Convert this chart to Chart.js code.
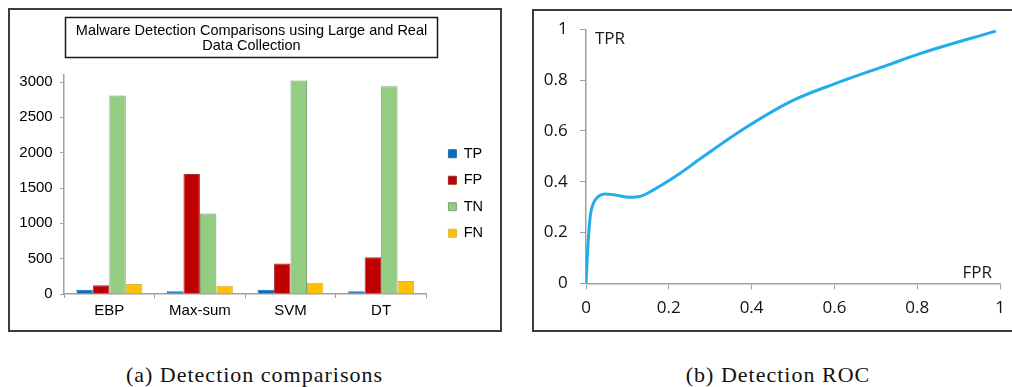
<!DOCTYPE html>
<html>
<head>
<meta charset="utf-8">
<script src="https://cdn.jsdelivr.net/npm/chart.js@4.4.0/dist/chart.umd.min.js"></script>
<style>
  body { margin: 0; background: #fff; width: 1012px; height: 387px; overflow: hidden; position: relative; }
  .box { position: absolute; border: 2px solid #3c3c3c; box-sizing: border-box; background: #fff; }
  #boxA { left: 8px; top: 8px; width: 494px; height: 324px; }
  #boxB { left: 532px; top: 9px; width: 500px; height: 323px; }
  .wrap { position: absolute; left: 0; top: 0; }
  #wrapA { width: 490px; height: 320px; }
  #wrapB { width: 496px; height: 319px; }
  .cap { position: absolute; top: 362px; height: 26px; line-height: 26px; text-align: center;
         font-family: "Liberation Serif", serif; font-size: 22px; letter-spacing: 1px; color: #111; }
  #capA { left: 0; width: 509px; }
  #capB { left: 628px; width: 300px; }
</style>
</head>
<body>
<div class="box" id="boxA"><div class="wrap" id="wrapA"><canvas id="barChart"></canvas></div></div>
<div class="box" id="boxB"><div class="wrap" id="wrapB"><canvas id="rocChart"></canvas></div></div>
<div class="cap" id="capA">(a) Detection comparisons</div>
<div class="cap" id="capB">(b) Detection ROC</div>
<script>
// bar chart data
const categories = ["EBP", "Max-sum", "SVM", "DT"];
const tpValues = [60, 40, 60, 40];
const fpValues = [125, 1700, 430, 520];
const tnValues = [2810, 1140, 3020, 2940];
const fnValues = [140, 115, 160, 185];
const countTicks = [0, 500, 1000, 1500, 2000, 2500, 3000];

// ROC curve data
const fpr = [0, 0.004, 0.01, 0.018, 0.03, 0.046, 0.07, 0.105, 0.13, 0.16, 0.22, 0.28, 0.39, 0.5, 0.6, 0.73, 0.81, 0.99];
const tpr = [0, 0.13, 0.26, 0.315, 0.342, 0.352, 0.348, 0.339, 0.342, 0.365, 0.425, 0.495, 0.617, 0.72, 0.785, 0.86, 0.906, 0.993];
const rateTicks = [0, 0.2, 0.4, 0.6, 0.8, 1];

const sans = "'Liberation Sans', Arial, sans-serif";
const axisGrey = "#a0a0a0";

// box around the title
const titleFrame = {
  id: "titleFrame",
  afterDraw(chart) {
    const t = chart.titleBlock;
    const ctx = chart.ctx;
    const cx = (t.left + t.right) / 2;
    ctx.save();
    ctx.strokeStyle = "#1a1a1a";
    ctx.lineWidth = 1.5;
    ctx.strokeRect(cx - 186, t.top + 7.5, 372, 40);
    ctx.restore();
  }
};

const barConfig = {
  type: "bar",
  data: {
    labels: categories,
    datasets: [
      { label: "TP", data: tpValues, backgroundColor: "#0070C0", borderColor: "#2b6ea8", borderWidth: 1 },
      { label: "FP", data: fpValues, backgroundColor: "#C00000", borderColor: "#a52a2a", borderWidth: 1 },
      { label: "TN", data: tnValues, backgroundColor: "#93CD82", borderColor: "#7e9f76", borderWidth: 1 },
      { label: "FN", data: fnValues, backgroundColor: "#FFC000", borderColor: "#d8b24a", borderWidth: 1 },
    ],
  },
  options: {
    responsive: true,
    maintainAspectRatio: false,
    animation: false,
    categoryPercentage: 0.727,
    barPercentage: 1,
    layout: { padding: { top: 0, left: 0, right: 7, bottom: 10 } },
    plugins: {
      tooltip: { enabled: false },
      title: {
        display: true,
        text: ["Malware Detection Comparisons using Large and Real", "Data Collection"],
        color: "#000",
        font: { family: sans, size: 14.5, weight: "normal", lineHeight: 1.05 },
        padding: { top: 13, bottom: 21.5 },
      },
      legend: {
        position: "right",
        fullSize: false,
        title: { display: true, text: "", font: { size: 12, lineHeight: 1.2 }, padding: 1.8 },
        labels: {
          boxWidth: 8,
          boxHeight: 8,
          padding: 12,
          color: "#000",
          font: { family: sans, size: 14.5 },
        },
      },
    },
    scales: {
      x: {
        afterFit: (axis) => { axis.height = 26; },
        grid: { display: true, drawOnChartArea: false, tickLength: 4, color: axisGrey, offset: true },
        border: { color: axisGrey, width: 1.5 },
        ticks: { color: "#000", font: { family: sans, size: 15 }, padding: 4 },
      },
      y: {
        min: 0,
        max: 3100,
        afterBuildTicks: (axis) => { axis.ticks = countTicks.map((v) => ({ value: v })); },
        afterFit: (axis) => { axis.width = 54; },
        grid: { display: true, drawOnChartArea: false, tickLength: 4, color: axisGrey },
        border: { color: axisGrey, width: 1.5 },
        ticks: { color: "#000", font: { family: sans, size: 15 }, padding: 7.3, callback: (v) => String(v) },
      },
      gap: {
        type: "linear",
        position: "right",
        display: true,
        afterFit: (axis) => { axis.width = 10; },
        grid: { display: false },
        border: { display: false },
        ticks: { display: false },
      },
    },
  },
  plugins: [titleFrame],
};

new Chart(document.getElementById("barChart").getContext("2d"), barConfig);

// "TPR" / "FPR" notes inside the plot
const axisNotes = {
  id: "axisNotes",
  afterDatasetsDraw(chart) {
    const { ctx, chartArea } = chart;
    ctx.save();
    ctx.font = "17px 'Open Sans'";
    ctx.fillStyle = "#1a1a1a";
    ctx.textBaseline = "middle";
    ctx.textAlign = "left";
    ctx.fillText("TPR", chartArea.left + 9, chartArea.top + 10);
    ctx.textAlign = "right";
    ctx.fillText("FPR", chartArea.right - 8, chartArea.bottom - 10.6);
    ctx.restore();
  }
};

const rocPoints = fpr.map((x, i) => ({ x: x, y: tpr[i] }));

const rocConfig = {
  type: "scatter",
  data: {
    datasets: [
      {
        label: "ROC",
        data: rocPoints,
        showLine: true,
        borderColor: "#1FAEE8",
        borderWidth: 3,
        pointRadius: 0,
        cubicInterpolationMode: "monotone",
      },
    ],
  },
  options: {
    responsive: true,
    maintainAspectRatio: false,
    animation: false,
    layout: { padding: { top: 18.3, left: 0, right: 30, bottom: 11.5 } },
    plugins: { legend: { display: false }, tooltip: { enabled: false }, title: { display: false } },
    scales: {
      x: {
        type: "linear",
        min: 0,
        max: 1,
        afterBuildTicks: (axis) => { axis.ticks = rateTicks.map((v) => ({ value: v })); },
        afterFit: (axis) => { axis.height = 35.2; },
        grid: { display: true, drawOnChartArea: false, tickLength: 6, color: axisGrey },
        border: { color: axisGrey, width: 1.5 },
        ticks: { color: "#111", font: { family: "'Open Sans'", size: 17 }, padding: 8.8, callback: (v) => String(v) },
      },
      y: {
        min: 0,
        max: 1,
        afterBuildTicks: (axis) => { axis.ticks = rateTicks.map((v) => ({ value: v })); },
        afterFit: (axis) => { axis.width = 52; },
        grid: { display: true, drawOnChartArea: false, tickLength: 6, color: axisGrey },
        border: { color: axisGrey, width: 1.5 },
        ticks: { color: "#111", font: { family: "'Open Sans'", size: 17, lineHeight: 0.6 }, padding: 12.3, callback: (v) => String(v) },
      },
    },
  },
  plugins: [axisNotes],
};

new Chart(document.getElementById("rocChart").getContext("2d"), rocConfig);
</script>
</body>
</html>
